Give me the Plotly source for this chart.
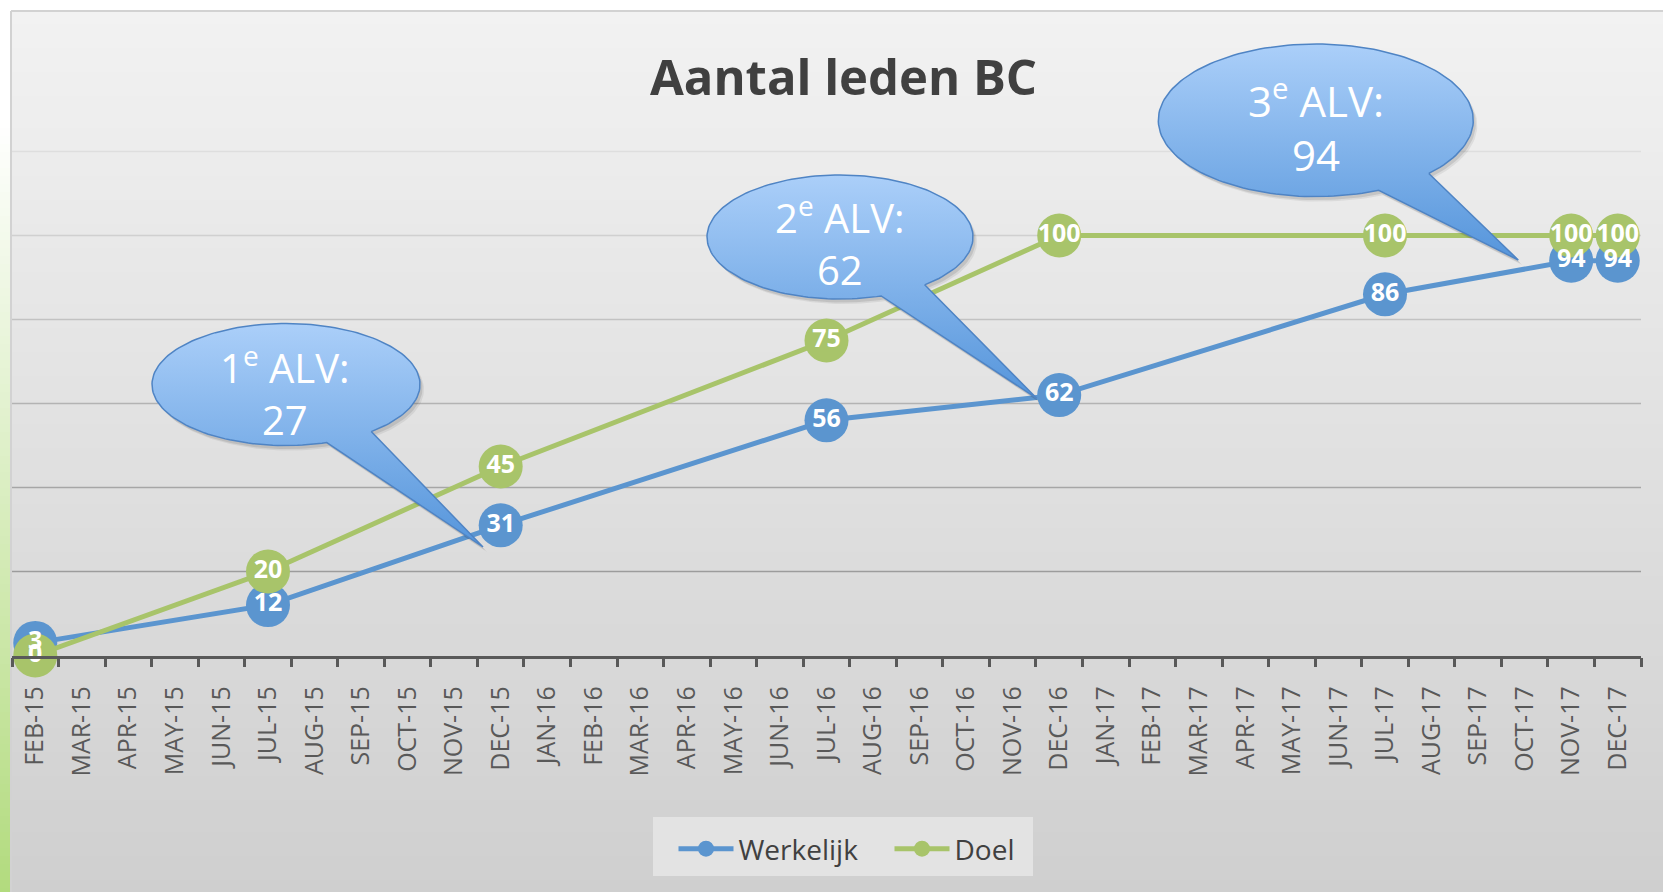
import math
import numpy as np
import plotly.graph_objects as go

# ---------------- data ----------------
months = ["FEB-15", "MAR-15", "APR-15", "MAY-15", "JUN-15", "JUL-15", "AUG-15", "SEP-15",
          "OCT-15", "NOV-15", "DEC-15",
          "JAN-16", "FEB-16", "MAR-16", "APR-16", "MAY-16", "JUN-16", "JUL-16", "AUG-16",
          "SEP-16", "OCT-16", "NOV-16", "DEC-16",
          "JAN-17", "FEB-17", "MAR-17", "APR-17", "MAY-17", "JUN-17", "JUL-17", "AUG-17",
          "SEP-17", "OCT-17", "NOV-17", "DEC-17"]
point_months = ["FEB-15", "JUL-15", "DEC-15", "JUL-16", "DEC-16", "JUL-17", "NOV-17", "DEC-17"]
werkelijk = [3, 12, 31, 56, 62, 86, 94, 94]
doel = [0, 20, 45, 75, 100, 100, 100, 100]
series_names = ["Werkelijk", "Doel"]
callout_texts = ["1<sup>e</sup> ALV:<br>27", "2<sup>e</sup> ALV:<br>62", "3<sup>e</sup> ALV:<br>94"]
title_text = "Aantal leden BC"

# ---------------- geometry / style ----------------
W, H = 1663, 892
PX_L, PX_R = 12, 1641          # plot area left / right (px)
PY_ZERO, PY_TOP = 655.5, 67.5  # pixel rows for y=0 and y=Y_MAX
Y_MAX = 140
BLUE = "#5b95cf"
GREEN = "#a8c46a"
FONT = "Open Sans"

fig = go.Figure()

# data traces (each in its own legend so spacing can match the reference)
for name, vals, col, leg in [(series_names[0], werkelijk, BLUE, "legend"),
                             (series_names[1], doel, GREEN, "legend2")]:
    fig.add_trace(go.Scatter(
        x=point_months, y=vals, name=name, mode="lines+markers",
        line=dict(color=col, width=5),
        marker=dict(color=col, size=44),
        legend=leg, cliponaxis=False, hoverinfo="skip"))

# data labels on top
for vals in [werkelijk, doel]:
    fig.add_trace(go.Scatter(
        x=point_months, y=vals, mode="text", text=[str(v) for v in vals],
        textposition="middle center",
        textfont=dict(family=FONT, size=25, color="white", weight="bold"),
        showlegend=False, cliponaxis=False, hoverinfo="skip"))

# ---------------- callouts (pixel overlay axes x2/y2) ----------------
callouts = [
    dict(c=(286, 384.5), r=(134, 61), b1=(372, 432), b2=(327, 443), tip=(483, 547), t=(285, 391), fs=40),
    dict(c=(840, 237), r=(133, 62), b1=(926.7, 286), b2=(881.7, 296.7), tip=(1036.7, 398.3), t=(840, 241), fs=40),
    dict(c=(1315.8, 120.3), r=(157.5, 76.3), b1=(1430, 174), b2=(1380, 191.7), tip=(1518.3, 260), t=(1316, 125), fs=42),
]


def callout_poly(c, r, b1, b2, tip, n=160):
    cx, cy = c
    rx, ry = r
    a1 = math.atan2((b1[1] - cy) / ry, (b1[0] - cx) / rx)
    a2 = math.atan2((b2[1] - cy) / ry, (b2[0] - cx) / rx)
    end = a2 - 2 * math.pi if a2 > a1 else a2
    ts = np.linspace(a1, end, n)
    xs = list(cx + rx * np.cos(ts)) + [tip[0], cx + rx * math.cos(a1)]
    ys = list(cy + ry * np.sin(ts)) + [tip[1], cy + ry * math.sin(a1)]
    return xs, ys


for co, txt in zip(callouts, callout_texts):
    xs, ys = callout_poly(co["c"], co["r"], co["b1"], co["b2"], co["tip"])
    for off, alpha in [(5, 0.08), (3.5, 0.12)]:
        fig.add_trace(go.Scatter(
            x=[x + off - 1 for x in xs], y=[H - (y + off) for y in ys],
            xaxis="x2", yaxis="y2", mode="lines", fill="toself",
            fillcolor=f"rgba(40,40,40,{alpha})", line=dict(width=0),
            showlegend=False, hoverinfo="skip"))
    fig.add_trace(go.Scatter(
        x=xs, y=[H - y for y in ys], xaxis="x2", yaxis="y2",
        mode="lines", fill="toself",
        fillgradient=dict(type="vertical", colorscale=[[0, "#5595db"], [1, "#abcff9"]]),
        line=dict(color="#4f84c4", width=1.5),
        showlegend=False, hoverinfo="skip"))
    fig.add_annotation(
        x=co["t"][0], y=H - co["t"][1], xref="x2", yref="y2",
        text=txt, showarrow=False, xanchor="center", yanchor="middle",
        font=dict(family=FONT, size=co["fs"], color="white"))

# title
fig.add_annotation(
    x=843 / W, y=(H - 76) / H, xref="paper", yref="paper",
    text=f"<b>{title_text}</b>", showarrow=False,
    font=dict(family=FONT, size=49, color="#404040"),
    xanchor="center", yanchor="middle")

# ---------------- background (gradient stripes) ----------------
shapes = []


def lerp(c1, c2, t):
    t = max(0.0, min(1.0, t))
    return "rgb(%d,%d,%d)" % tuple(round(a + (b - a) * t) for a, b in zip(c1, c2))


step = 8
for y0 in range(0, H, step):
    y1 = min(H, y0 + step)
    ym = (y0 + y1) / 2
    if y1 > 11:
        yy0 = max(y0, 11)
        shapes.append(dict(type="rect", xref="paper", yref="paper",
                           x0=11 / W, x1=1.0, y0=(H - y1) / H, y1=(H - yy0) / H,
                           fillcolor=lerp((242, 242, 242), (207, 207, 207), (ym - 11) / (H - 11)),
                           line=dict(width=0), layer="below"))
    shapes.append(dict(type="rect", xref="paper", yref="paper",
                       x0=0, x1=11 / W, y0=(H - y1) / H, y1=(H - y0) / H,
                       fillcolor=lerp((255, 255, 255), (178, 219, 126), (ym - 120) / (H - 120)),
                       line=dict(width=0), layer="below"))

# chart border
shapes.append(dict(type="line", xref="paper", yref="paper", x0=11 / W, x1=1, y0=(H - 11) / H, y1=(H - 11) / H,
                   line=dict(color="#d2d2d2", width=2), layer="below"))
shapes.append(dict(type="line", xref="paper", yref="paper", x0=11 / W, x1=11 / W, y0=0, y1=(H - 11) / H,
                   line=dict(color="#d2d2d2", width=2), layer="below"))

# legend background box
shapes.append(dict(type="rect", xref="paper", yref="paper",
                   x0=653 / W, x1=1033 / W, y0=(H - 876) / H, y1=(H - 817) / H,
                   fillcolor="#e3e3e3", line=dict(width=0), layer="below"))

# horizontal gridlines (shade varies top to bottom like the reference)
grid_vals = list(range(20, 121, 20))
grid_cols = {20: "#9c9c9c", 40: "#a6a6a6", 60: "#b3b3b3", 80: "#c2c2c2", 100: "#d0d0d0", 120: "#dedede"}
for gv in grid_vals:
    shapes.append(dict(type="line", xref="x domain", yref="y", x0=0, x1=1, y0=gv, y1=gv,
                       line=dict(color=grid_cols[gv], width=1.5), layer="below"))

legend_common = dict(orientation="h", xanchor="left", yanchor="top",
                     bgcolor="rgba(0,0,0,0)", font=dict(family=FONT, size=28, color="#404040"),
                     itemwidth=55, itemclick=False, itemdoubleclick=False)

fig.update_layout(
    width=W, height=H,
    margin=dict(l=0, r=0, t=0, b=0, pad=0),
    paper_bgcolor="white",
    plot_bgcolor="rgba(0,0,0,0)",
    shapes=shapes,
    font=dict(family=FONT, color="#595959"),
    xaxis=dict(
        type="category", categoryorder="array", categoryarray=months,
        range=[-0.5, len(months) - 0.5],
        domain=[PX_L / W, PX_R / W], anchor="y",
        showline=True, linecolor="#595959", linewidth=2.5,
        ticks="outside", ticklen=9, tickwidth=2.5, tickcolor="#595959",
        tickson="boundaries", tickangle=-90, ticklabelstandoff=18,
        tickfont=dict(family=FONT, size=25, color="#595959"),
        showgrid=False, zeroline=False, automargin=False, fixedrange=True),
    yaxis=dict(
        range=[0, Y_MAX], domain=[(H - PY_ZERO) / H, (H - PY_TOP) / H], anchor="x",
        showgrid=False, zeroline=False, showticklabels=False, ticks="",
        showline=False, automargin=False, fixedrange=True),
    xaxis2=dict(domain=[0, 1], range=[0, W], anchor="y2", visible=False, fixedrange=True),
    yaxis2=dict(domain=[0, 1], range=[0, H], anchor="x2", visible=False, fixedrange=True),
    legend=dict(x=673.5 / W, y=(H - 824) / H, **legend_common),
    legend2=dict(x=889.5 / W, y=(H - 824) / H, **legend_common),
    showlegend=True,
)

fig.write_html("out.html", config={"displayModeBar": False},
               post_script="document.body.style.margin='0';document.body.style.overflow='hidden';")
